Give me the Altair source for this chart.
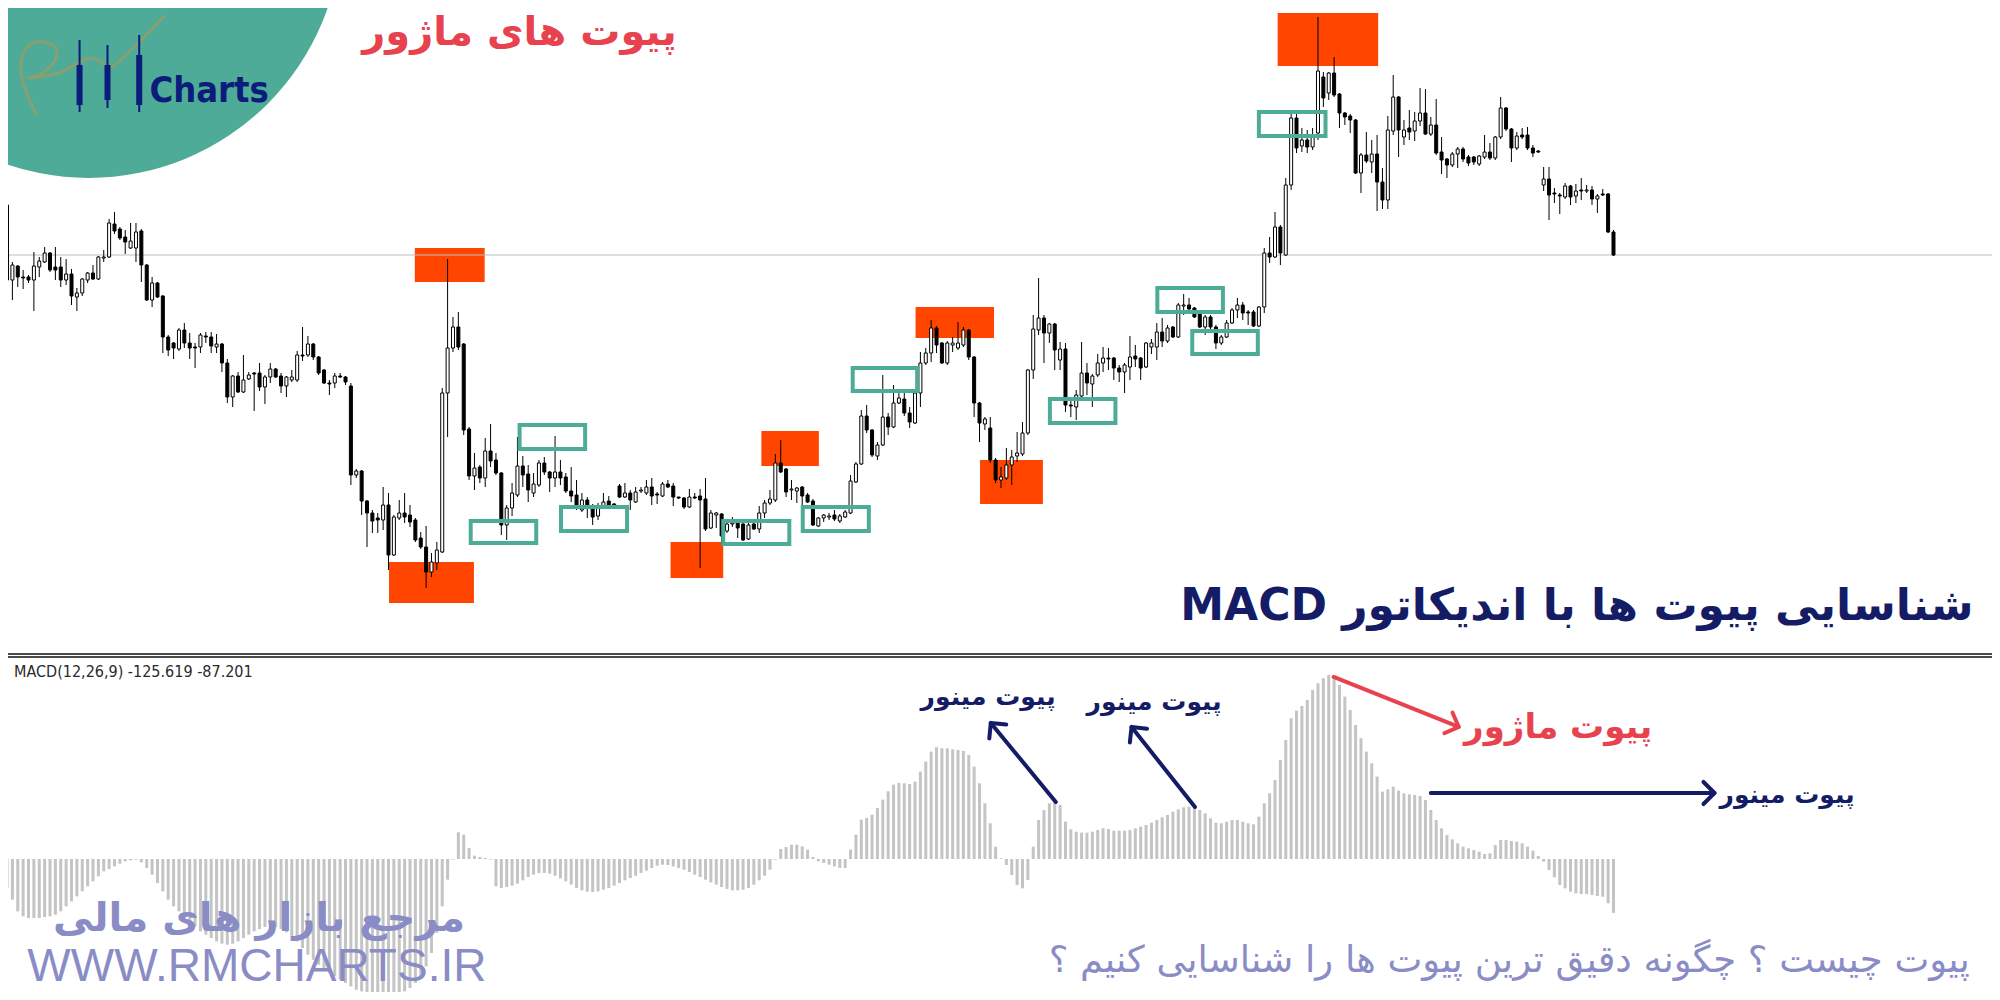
import altair as alt
import pandas as pd

# ---------------- candles (bar number -> prices) ----------------
candle_open = [
    495, 420, 434, 423, 423, 420, 433, 438, 447, 433, 433, 420, 426, 403, 407, 420, 427, 421, 442, 443,
    476, 471, 463, 452, 452, 469, 435, 400, 417, 404, 363, 357, 351, 370, 357, 353, 353, 364, 363, 353,
    356, 337, 303, 324, 308, 321, 327, 327, 313, 323, 331, 324, 314, 320, 320, 345, 345, 356, 343, 330,
    317, 317, 324, 323, 314, 225, 229, 199, 187, 182, 180, 195, 145, 182, 187, 185, 180, 162, 153, 128,
    137, 148, 307, 352, 373, 356, 271, 224, 233, 222, 249, 240, 227, 175, 192, 205, 234, 226, 207, 215,
    237, 228, 222, 228, 223, 209, 205, 190, 200, 194, 184, 194, 199, 196, 214, 203, 207, 198, 209, 207,
    213, 206, 204, 216, 214, 203, 202, 193, 203, 204, 201, 172, 185, 186, 169, 176, 177, 176, 161, 176,
    171, 187, 197, 200, 237, 231, 210, 209, 213, 205, 199, 174, 182, 183, 185, 179, 183, 187, 218, 236,
    284, 270, 244, 255, 283, 273, 297, 301, 287, 277, 307, 337, 347, 372, 357, 337, 355, 352, 355, 370,
    343, 297, 276, 272, 240, 220, 222, 235, 244, 246, 267, 330, 370, 382, 367, 376, 340, 351, 295, 293,
    304, 327, 316, 325, 337, 342, 342, 332, 328, 333, 344, 342, 333, 353, 353, 368, 359, 373, 363, 394,
    395, 392, 387, 373, 383, 373, 357, 363, 377, 390, 395, 388, 388, 374, 393, 447, 443, 473, 445, 515,
    582, 554, 560, 553, 567, 623, 607, 627, 606, 587, 584, 580, 527, 545, 538, 546, 518, 500, 569, 603,
    563, 572, 569, 579, 587, 566, 575, 548, 541, 535, 546, 551, 543, 543, 536, 543, 548, 542, 563, 592,
    571, 552, 565, 565, 552, 549, 515, 521, 507, 505, 503, 514, 504, 510, 509, 510, 501, 506, 506, 468,
]
candle_high = [
    502, 438, 435, 430, 425, 448, 443, 453, 448, 453, 443, 441, 431, 412, 422, 428, 435, 444, 450, 481,
    488, 473, 470, 477, 477, 471, 436, 423, 418, 405, 365, 358, 372, 377, 367, 357, 367, 368, 368, 366,
    357, 341, 325, 328, 345, 328, 328, 337, 325, 337, 332, 327, 324, 330, 349, 373, 364, 357, 344, 331,
    320, 327, 327, 324, 317, 231, 230, 200, 190, 187, 213, 207, 185, 200, 207, 195, 182, 168, 174, 147,
    158, 312, 441, 383, 388, 357, 273, 247, 235, 262, 276, 247, 228, 195, 217, 263, 244, 235, 227, 240,
    243, 229, 264, 240, 227, 233, 220, 207, 203, 196, 197, 207, 204, 197, 216, 217, 210, 213, 213, 220,
    222, 208, 218, 220, 217, 203, 203, 211, 207, 211, 222, 190, 188, 187, 178, 183, 179, 177, 177, 177,
    194, 200, 210, 246, 260, 232, 220, 213, 214, 207, 201, 183, 186, 187, 190, 186, 190, 225, 238, 290,
    295, 271, 258, 325, 287, 315, 307, 307, 293, 308, 348, 352, 380, 374, 358, 359, 363, 378, 373, 371,
    344, 298, 283, 283, 242, 233, 252, 250, 268, 278, 331, 385, 422, 385, 377, 377, 358, 357, 302, 310,
    358, 337, 326, 346, 353, 352, 343, 335, 337, 364, 355, 343, 358, 361, 377, 382, 375, 374, 397, 406,
    402, 393, 388, 385, 385, 375, 365, 380, 392, 402, 398, 390, 390, 394, 452, 463, 488, 475, 522, 588,
    587, 572, 570, 572, 683, 628, 628, 643, 607, 588, 586, 581, 547, 568, 560, 565, 532, 584, 625, 604,
    580, 590, 588, 612, 611, 583, 601, 563, 542, 548, 553, 553, 545, 544, 545, 565, 557, 564, 603, 593,
    572, 568, 572, 573, 555, 550, 533, 533, 512, 507, 517, 515, 516, 522, 515, 514, 506, 511, 507, 470,
]
candle_low = [
    418, 400, 413, 411, 417, 389, 423, 437, 428, 420, 413, 415, 395, 389, 404, 417, 420, 420, 438, 442,
    466, 460, 446, 451, 438, 418, 399, 393, 402, 347, 344, 341, 349, 352, 341, 332, 347, 357, 347, 347,
    328, 297, 293, 307, 307, 320, 289, 309, 296, 317, 322, 307, 303, 318, 318, 339, 343, 340, 325, 316,
    305, 312, 322, 315, 215, 222, 185, 153, 167, 167, 170, 130, 144, 180, 177, 173, 158, 151, 112, 123,
    130, 147, 263, 348, 350, 265, 220, 210, 217, 213, 233, 225, 165, 160, 184, 203, 213, 198, 203, 213,
    225, 208, 213, 215, 207, 198, 190, 188, 182, 175, 180, 193, 194, 194, 202, 202, 190, 197, 207, 205,
    195, 196, 203, 212, 194, 201, 191, 192, 201, 132, 169, 171, 172, 155, 167, 173, 162, 159, 160, 170,
    167, 182, 195, 198, 227, 203, 200, 197, 195, 197, 174, 173, 178, 180, 179, 177, 182, 186, 217, 235,
    267, 243, 240, 254, 265, 272, 296, 284, 272, 276, 293, 335, 338, 347, 336, 335, 348, 350, 353, 340,
    283, 258, 270, 237, 217, 212, 220, 215, 238, 244, 265, 321, 365, 337, 357, 330, 330, 288, 283, 280,
    302, 305, 293, 323, 328, 330, 320, 318, 307, 320, 333, 320, 332, 346, 340, 353, 357, 362, 362, 385,
    387, 382, 372, 365, 367, 351, 355, 362, 376, 382, 380, 375, 373, 373, 387, 437, 442, 435, 444, 510,
    547, 548, 547, 550, 560, 593, 600, 603, 572, 575, 567, 526, 507, 537, 527, 489, 491, 491, 565, 543,
    555, 560, 559, 574, 565, 564, 545, 526, 522, 533, 532, 538, 534, 535, 534, 541, 540, 540, 561, 569,
    538, 550, 561, 550, 543, 547, 509, 480, 497, 486, 501, 495, 497, 500, 507, 495, 487, 504, 467, 444,
]
candle_close = [
    420, 435, 423, 422, 420, 434, 439, 447, 430, 430, 420, 426, 404, 407, 421, 427, 421, 443, 443, 477,
    469, 462, 458, 459, 468, 435, 400, 417, 403, 363, 350, 352, 370, 357, 352, 352, 365, 363, 354, 356,
    337, 303, 324, 308, 320, 325, 326, 313, 323, 331, 323, 314, 323, 323, 345, 344, 356, 343, 327, 317,
    316, 324, 323, 318, 225, 229, 199, 187, 179, 180, 195, 145, 183, 187, 183, 178, 160, 153, 128, 138,
    150, 307, 352, 373, 353, 270, 224, 232, 222, 249, 239, 227, 175, 192, 207, 234, 225, 210, 216, 237,
    228, 222, 228, 222, 209, 204, 194, 200, 193, 183, 194, 198, 195, 195, 203, 207, 200, 208, 210, 213,
    204, 205, 216, 213, 203, 202, 193, 203, 202, 200, 171, 187, 187, 164, 176, 177, 172, 160, 175, 171,
    187, 197, 201, 237, 228, 208, 211, 212, 204, 198, 175, 182, 185, 184, 181, 184, 188, 219, 236, 284,
    270, 245, 255, 283, 273, 297, 302, 287, 278, 307, 337, 347, 372, 355, 337, 357, 357, 357, 370, 343,
    297, 277, 281, 240, 220, 223, 235, 243, 247, 267, 330, 371, 382, 367, 376, 350, 351, 295, 294, 305,
    327, 317, 324, 337, 342, 341, 332, 328, 335, 343, 341, 332, 357, 357, 368, 359, 372, 363, 395, 395,
    391, 383, 373, 383, 373, 357, 363, 377, 390, 395, 387, 387, 374, 393, 447, 443, 473, 447, 515, 582,
    552, 560, 553, 564, 629, 602, 627, 605, 587, 583, 580, 527, 545, 539, 546, 518, 500, 570, 603, 570,
    570, 568, 579, 587, 566, 575, 547, 540, 535, 546, 551, 541, 537, 538, 544, 548, 542, 563, 592, 571,
    552, 564, 563, 552, 547, 548, 521, 505, 506, 504, 514, 503, 509, 509, 510, 501, 504, 505, 468, 445,
]

# ---------------- MACD(12,26,9) histogram, one value per bar ----------------
macd_hist = [
    -67.6, -94.8, -122, -133.6, -137.5, -137.5, -137.5, -135.2, -133.6, -129.8,
    -122, -110.3, -98.7, -87, -75.4, -63.7, -52.1, -40.4, -28.7, -23.3,
    -17.1, -10.9, -5.4, -3.1, -1.6, -7.8, -21, -36.5, -55.9, -75.4,
    -94.8, -110.3, -122, -133.6, -145.3, -157, -168.6, -176.4, -184.1, -191.9,
    -197.4, -199.7, -197.4, -191.9, -184.1, -176.4, -168.6, -163.2, -158.5, -157,
    -158.5, -163.2, -170.9, -180.3, -191.9, -207.5, -223, -234.7, -246.3, -258,
    -265.7, -273.5, -281.3, -289, -296.8, -304.6, -308.5, -312.4, -313.9, -316.2,
    -318.6, -318.6, -316.2, -312.4, -308.5, -300.7, -289, -273.5, -250.2, -219.1,
    -172.5, -110.3, -48.2, -1.6, 62.2, 56.7, 25.6, 7.8, 4.7, 2.3,
    -1.6, -63.7, -67.6, -65.3, -62.2, -57.5, -49.7, -42, -36.5, -32.6,
    -32.6, -34.2, -38.9, -45.1, -52.1, -59.8, -67.6, -73, -76.1, -76.9,
    -75.4, -71.5, -67.6, -62.2, -55.9, -49.7, -44.3, -38.9, -32.6, -27.2,
    -21, -15.5, -13.2, -14, -17.1, -21, -24.9, -30.3, -36.5, -42,
    -48.2, -54.4, -59.8, -65.3, -69.9, -73, -73, -71.5, -67.6, -59.8,
    -49.7, -38.9, -24.9, -1.6, 23.3, 28, 33.4, 33.4, 29.5, 21.8,
    4.7, -5.4, -9.3, -13.2, -17.1, -21, -21, 21.8, 56.7, 91.7,
    95.6, 103.3, 118.9, 138.3, 157.7, 173.3, 177.2, 176.4, 174.8, 180.3,
    203.6, 226.9, 250.2, 260.3, 258, 258, 255.6, 254.1, 251.7, 242.4,
    215.2, 176.4, 129.8, 83.1, 28.7, 1.6, -14, -37.3, -60.6, -68.4,
    -49, 28.7, 90.9, 114.2, 129.8, 133.6, 125.9, 87, 69.2, 63.7,
    61.4, 61.4, 63.7, 67.6, 71.5, 69.9, 66, 66, 66, 67.6,
    71.5, 75.4, 79.3, 84.7, 90.9, 97.1, 102.6, 110.3, 115.8, 120.4,
    122, 118.1, 114.2, 106.4, 94.8, 84.7, 83.1, 87, 90.9, 90.9,
    87, 83.1, 80.8, 98.7, 129.8, 153.1, 184.1, 230.8, 277.4, 327.9,
    345.8, 356.6, 370.6, 393.9, 409.5, 421.1, 428.9, 426.6, 405.6, 378.4,
    347.3, 312.4, 281.3, 250.2, 223, 191.9, 157, 162.4, 168.6, 159.3,
    153.1, 150.7, 149.2, 146.9, 137.5, 114.2, 90.9, 71.5, 55.9, 45.8,
    36.5, 28.7, 24.9, 21, 17.1, 11.7, 13.2, 32.6, 44.3, 44.3,
    42, 40.4, 36.5, 28.7, 19.4, 7, -6.2, -25.6, -42.7, -60.6,
    -68.4, -76.1, -80, -81.6, -81.6, -83.9, -86.2, -87.8, -103.3, -125.6,
]

# ---------------- marked zones (bar range, price range) ----------------
major_bar0 = [75.9, 71.1, 123.5, 140.4, 169.1, 181.1, 236.5]
major_bar1 = [88.9, 86.9, 133.3, 151.1, 183.7, 192.8, 255.2]
major_low = [418, 97, 122, 234, 362, 196, 634]
major_high = [452, 138, 158, 269, 393, 240, 687]

minor_bar0 = [86.3, 95.4, 103.1, 133.3, 148.1, 157.4, 194.1, 214.1, 220.6, 233.0]
minor_bar1 = [98.5, 107.6, 115.4, 145.6, 160.4, 169.4, 206.3, 226.3, 232.8, 245.4]
minor_low = [157, 251, 169, 156, 169, 309, 277, 388, 346, 564]
minor_high = [179, 275, 193, 179, 193, 332, 301, 412, 369, 588]

# ---------------- MACD-pane arrows (bar, macd) -> (bar, macd) ----------------
arrow_bar0 = [195.2, 221.1, 246.9, 265.0]
arrow_val0 = [132.8, 121.2, 424.1, 153.8]
arrow_bar1 = [183.1, 209.3, 270.2, 317.8]
arrow_val1 = [316.9, 307.6, 307.6, 153.8]
arrow_angle = [230.5, 231.3, 21.6, 0]

# ---------------- logo pieces ----------------
logo_bar = [13.5, 18.7, 24.6]
logo_wick_top = [660, 655, 665]
logo_wick_bot = [588, 592, 588]
logo_body_top = [635, 635, 645]
logo_body_bot = [595, 600, 595]
script_bar = [5.50, 3.94, 2.72, 2.59, 3.33, 4.87, 7.04, 8.89, 9.20, 7.96, 5.80, 3.94,
              7.04, 10.13, 13.20, 15.69, 17.54, 18.76, 20.00, 22.46, 25.56, 28.02, 29.26]
script_price = [585, 603, 623, 637, 650, 657, 658, 653, 643, 633, 625, 622,
                624, 628, 637, 642, 638, 632, 635, 647, 663, 677, 684]

# ---------------- colours / fonts ----------------
TEAL = "#4DAB97"
ORANGE = "#FF4500"
RED = "#E8424F"
NAVY = "#141C66"
LOGO_NAVY = "#0B1C7A"
LILAC = "#8A8CC5"
FA = "DejaVu Sans"

W, H = 1984, 984
xs = alt.Scale(domain=[1.111, 368.518], nice=False, zero=False)
ps = alt.Scale(domain=[-292, 692], nice=False, zero=False)
ms = alt.Scale(domain=[-309.9, 1982.8], nice=False, zero=False)


def X(f):
    return alt.X(f"{f}:Q", scale=xs, axis=None)


def YP(f):
    return alt.Y(f"{f}:Q", scale=ps, axis=None)


def YM(f):
    return alt.Y(f"{f}:Q", scale=ms, axis=None)


n = len(candle_close)
candles = pd.DataFrame({
    "i": list(range(n)), "open": candle_open, "high": candle_high,
    "low": candle_low, "close": candle_close,
})
candles["dir"] = ["up" if c >= o else "down" for o, c in zip(candle_open, candle_close)]

macd = pd.DataFrame({"i": list(range(len(macd_hist))), "v": macd_hist})
macd["zero"] = 0.0

major = pd.DataFrame({"a": major_bar0, "b": major_bar1, "lo": major_low, "hi": major_high})
minor = pd.DataFrame({"a": minor_bar0, "b": minor_bar1, "lo": minor_low, "hi": minor_high})
arrows = pd.DataFrame({
    "a": arrow_bar0, "va": arrow_val0, "b": arrow_bar1, "vb": arrow_val1,
    "ang": arrow_angle, "c": [NAVY, NAVY, RED, NAVY],
})

layers = []

# teal logo disc
layers.append(
    alt.Chart(pd.DataFrame({"i": [15.2], "p": [775]}))
    .mark_circle(size=256000, color=TEAL, opacity=1)
    .encode(x=X("i"), y=YP("p"))
)
# olive hand-written "RM"
layers.append(
    alt.Chart(pd.DataFrame({"s": list(range(len(script_bar))), "i": script_bar, "p": script_price}))
    .mark_line(color="#8F9D6B", strokeWidth=3, interpolate="cardinal", opacity=0.9)
    .encode(x=X("i"), y=YP("p"), order="s:Q")
)
logo = pd.DataFrame({"i": logo_bar, "wt": logo_wick_top, "wb": logo_wick_bot,
                     "bt": logo_body_top, "bb": logo_body_bot})
layers.append(alt.Chart(logo).mark_rule(color=LOGO_NAVY, strokeWidth=2)
              .encode(x=X("i"), y=YP("wb"), y2="wt"))
layers.append(alt.Chart(logo).mark_bar(size=6, color=LOGO_NAVY)
              .encode(x=X("i"), y=YP("bb"), y2="bt"))
layers.append(
    alt.Chart(pd.DataFrame({"t": ["Charts"], "i": [26.5], "p": [598]}))
    .mark_text(align="left", baseline="alphabetic", fontSize=36, fontWeight="bold",
               font="Liberation Sans Narrow, DejaVu Sans Condensed, Arial Narrow, sans-serif",
               color=LOGO_NAVY)
    .encode(x=X("i"), y=YP("p"), text="t:N")
)

# major pivot zones
layers.append(alt.Chart(major).mark_rect(color=ORANGE, opacity=1)
              .encode(x=X("a"), x2="b", y=YP("lo"), y2="hi"))
# current price line
layers.append(
    alt.Chart(pd.DataFrame({"p": [candle_close[-1]]}))
    .mark_rule(color="#BDBDBD", strokeWidth=1.2)
    .encode(y=YP("p"))
)
# candles
layers.append(alt.Chart(candles).mark_rule(color="black", strokeWidth=1)
              .encode(x=X("i"), y=YP("low"), y2="high"))
layers.append(
    alt.Chart(candles).mark_bar(size=3, stroke="black", strokeWidth=1)
    .encode(x=X("i"), y=YP("open"), y2="close",
            fill=alt.Fill("dir:N", scale=alt.Scale(domain=["up", "down"], range=["white", "black"]),
                          legend=None))
)
# minor pivot zones
layers.append(alt.Chart(minor).mark_rect(fillOpacity=0, stroke=TEAL, strokeWidth=4)
              .encode(x=X("a"), x2="b", y=YP("lo"), y2="hi"))

# headline texts of the price pane
heads = pd.DataFrame({
    "t": ["پیوت های ماژور", "\u202bشناسایی پیوت ها با اندیکاتور MACD\u202c"],
    "i": [95.4, 292.2], "p": [667, 93], "c": [RED, NAVY], "s": [40, 44],
})
layers.append(
    alt.Chart(heads).mark_text(font=FA, fontWeight="bold", align="center", baseline="middle")
    .encode(x=X("i"), y=YP("p"), text="t:N", color=alt.Color("c:N", scale=None),
            size=alt.Size("s:Q", scale=None))
)

# pane separator
layers.append(
    alt.Chart(pd.DataFrame({"p": [46, 43]}))
    .mark_rule(color="#4A4A4A", strokeWidth=2)
    .encode(y=YP("p"))
)

# MACD histogram
layers.append(alt.Chart(macd).mark_bar(size=3, color="#C4C4C4")
              .encode(x=X("i"), y=YM("v"), y2="zero"))
layers.append(
    alt.Chart(pd.DataFrame({"t": ["MACD(12,26,9) -125.619 -87.201"], "i": [1.3], "v": [424.1]}))
    .mark_text(align="left", baseline="alphabetic", fontSize=16,
               font="Liberation Sans Narrow, DejaVu Sans Condensed, Liberation Sans", color="#2A2A2A")
    .encode(x=X("i"), y=YM("v"), text="t:N")
)

# arrows
layers.append(
    alt.Chart(arrows).mark_rule(strokeWidth=4, strokeCap="round")
    .encode(x=X("a"), y=YM("va"), x2="b", y2="vb", color=alt.Color("c:N", scale=None))
)
layers.append(
    alt.Chart(arrows).mark_point(shape="M -0.9 -0.9 L 0 0 L -0.9 0.9", filled=False, size=600,
                                 strokeWidth=4, strokeCap="round", strokeJoin="round", opacity=1)
    .encode(x=X("b"), y=YM("vb"), angle=alt.Angle("ang:Q", scale=None),
            color=alt.Color("c:N", scale=None))
)

notes = pd.DataFrame({
    "t": ["پیوت مینور", "پیوت مینور", "پیوت مینور", "پیوت ماژور"],
    "i": [182.6, 213.5, 331.3, 288.7], "v": [377.5, 365.8, 149.0, 305.2],
    "c": [NAVY, NAVY, NAVY, RED], "s": [25, 25, 25, 34],
})
layers.append(
    alt.Chart(notes).mark_text(font=FA, fontWeight="bold", align="center", baseline="middle")
    .encode(x=X("i"), y=YM("v"), text="t:N", color=alt.Color("c:N", scale=None),
            size=alt.Size("s:Q", scale=None))
)

# watermark / footer texts
layers.append(
    alt.Chart(pd.DataFrame({"t": ["مرجع بازار های مالی"], "i": [46.9], "v": [-140.0]}))
    .mark_text(font=FA, fontWeight="bold", fontSize=40, align="center", baseline="middle",
               color=LILAC)
    .encode(x=X("i"), y=YM("v"), text="t:N")
)
layers.append(
    alt.Chart(pd.DataFrame({"t": ["پیوت چیست ؟ چگونه دقیق ترین پیوت ها را شناسایی کنیم ؟"],
                            "i": [279.6], "v": [-238.0]}))
    .mark_text(font=FA, fontSize=37, align="center", baseline="middle", color=LILAC)
    .encode(x=X("i"), y=YM("v"), text="t:N")
)
layers.append(
    alt.Chart(pd.DataFrame({"t": ["WWW.RMCHARTS.IR"], "i": [46.5], "v": [-252.0]}))
    .mark_text(font="Liberation Sans", fontSize=46, align="center", baseline="middle", color=LILAC)
    .encode(x=X("i"), y=YM("v"), text="t:N")
)

chart = (
    alt.layer(*layers)
    .resolve_scale(y="independent")
    .properties(width=W, height=H, autosize=alt.AutoSizeParams(type="none"), padding=0,
                background="white")
    .configure_view(stroke=None)
)

chart.save("out.html", embed_options={"renderer": "svg", "actions": False})
